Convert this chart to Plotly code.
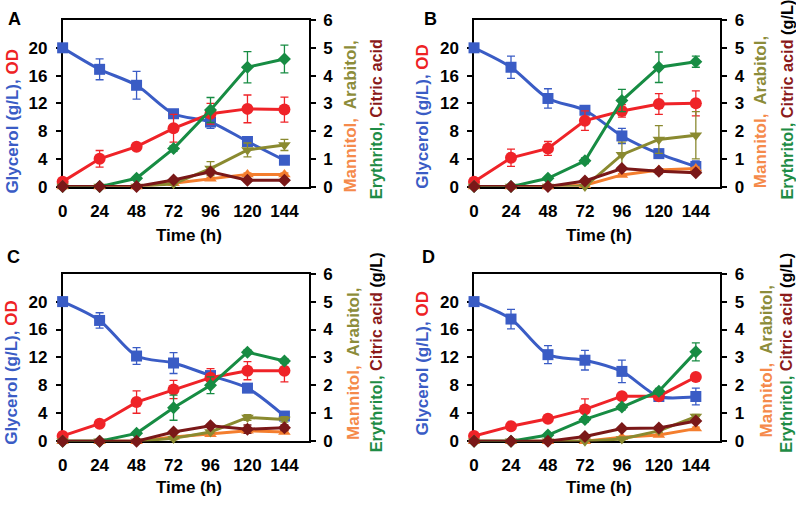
import plotly.graph_objects as go

# ---------------- data ----------------
time_h = [0, 24, 48, 72, 96, 120, 144]
x_ticks = [0, 24, 48, 72, 96, 120, 144]
left_ticks = [0, 4, 8, 12, 16, 20]
right_ticks = [0, 1, 2, 3, 4, 5, 6]
panel_labels = ["A", "B", "C", "D"]

# Panel A
glycerol_A = [20, 16.9, 14.6, 10.5, 9.3, 6.5, 3.8]
glycerol_A_err = [0, 1.5, 2.0, 0.5, 0.9, 0.5, 0.3]
od_A = [0.7, 4.0, 5.75, 8.4, 10.5, 11.2, 11.1]
od_A_err = [0, 1.2, 0.3, 2.0, 1.5, 2.0, 1.8]
erythritol_A = [0, 0, 0.3, 1.37, 2.76, 4.3, 4.6]
erythritol_A_err = [0, 0, 0.05, 0.1, 0.45, 0.56, 0.5]
arabitol_A = [0, 0, 0, 0.1, 0.65, 1.32, 1.5]
arabitol_A_err = [0, 0, 0, 0.05, 0.25, 0.25, 0.2]
mannitol_A = [0, 0, 0, 0.12, 0.28, 0.44, 0.44]
mannitol_A_err = [0, 0, 0, 0.03, 0.05, 0.05, 0.05]
citric_A = [0, 0, 0, 0.24, 0.53, 0.23, 0.23]
citric_A_err = [0, 0, 0, 0.03, 0.05, 0.05, 0.05]

# Panel B
glycerol_B = [20, 17.2, 12.7, 11.0, 7.3, 4.75, 2.9]
glycerol_B_err = [0, 1.6, 1.4, 0.5, 1.1, 0.6, 0.8]
od_B = [0.7, 4.15, 5.5, 9.5, 10.9, 11.9, 12.0]
od_B_err = [0, 1.25, 1.0, 1.4, 0.9, 1.5, 1.8]
erythritol_B = [0, 0, 0.3, 0.93, 3.1, 4.3, 4.5]
erythritol_B_err = [0, 0, 0.05, 0.1, 0.4, 0.55, 0.2]
arabitol_B = [0, 0, 0, 0, 1.15, 1.7, 1.85]
arabitol_B_err = [0, 0, 0, 0, 0.45, 0.5, 0.85]
mannitol_B = [0, 0, 0, 0.05, 0.42, 0.6, 0.65]
mannitol_B_err = [0, 0, 0, 0.03, 0.05, 0.05, 0.05]
citric_B = [0, 0, 0, 0.2, 0.65, 0.55, 0.5]
citric_B_err = [0, 0, 0, 0.03, 0.05, 0.08, 0.05]

# Panel C
glycerol_C = [20, 17.3, 12.2, 11.2, 9.4, 7.6, 3.6]
glycerol_C_err = [0, 1.1, 1.2, 1.5, 0.5, 0.3, 0.2]
od_C = [0.75, 2.5, 5.6, 7.4, 9.1, 10.1, 10.1]
od_C_err = [0, 0.3, 1.6, 1.3, 1.3, 1.3, 1.6]
erythritol_C = [0, 0, 0.28, 1.2, 2.0, 3.19, 2.87]
erythritol_C_err = [0, 0, 0.05, 0.45, 0.3, 0.08, 0.08]
arabitol_C = [0, 0, 0, 0.1, 0.33, 0.85, 0.78]
arabitol_C_err = [0, 0, 0, 0.05, 0.05, 0.1, 0.1]
mannitol_C = [0, 0, 0, 0.15, 0.25, 0.37, 0.33]
mannitol_C_err = [0, 0, 0, 0.03, 0.05, 0.05, 0.05]
citric_C = [0, 0, 0, 0.33, 0.55, 0.43, 0.48]
citric_C_err = [0, 0, 0, 0.05, 0.05, 0.15, 0.1]

# Panel D
glycerol_D = [20, 17.5, 12.4, 11.6, 10.0, 6.4, 6.4]
glycerol_D_err = [0, 1.4, 1.3, 1.4, 1.6, 0.3, 1.2]
od_D = [0.75, 2.15, 3.2, 4.55, 6.45, 6.45, 9.2]
od_D_err = [0, 0.2, 0.5, 1.5, 0.2, 0.2, 0.2]
erythritol_D = [0, 0, 0.22, 0.78, 1.22, 1.79, 3.2]
erythritol_D_err = [0, 0, 0.05, 0.1, 0.1, 0.1, 0.32]
arabitol_D = [0, 0, 0, 0, 0.08, 0.37, 0.88]
arabitol_D_err = [0, 0, 0, 0, 0.03, 0.05, 0.08]
mannitol_D = [0, 0, 0, 0, 0.14, 0.22, 0.45]
mannitol_D_err = [0, 0, 0, 0, 0.03, 0.03, 0.05]
citric_D = [0, 0, 0, 0.17, 0.45, 0.47, 0.72]
citric_D_err = [0, 0, 0, 0.03, 0.05, 0.05, 0.05]

panels = [
    dict(gly=glycerol_A, gly_e=glycerol_A_err, od=od_A, od_e=od_A_err,
         ery=erythritol_A, ery_e=erythritol_A_err, ara=arabitol_A, ara_e=arabitol_A_err,
         man=mannitol_A, man_e=mannitol_A_err, cit=citric_A, cit_e=citric_A_err),
    dict(gly=glycerol_B, gly_e=glycerol_B_err, od=od_B, od_e=od_B_err,
         ery=erythritol_B, ery_e=erythritol_B_err, ara=arabitol_B, ara_e=arabitol_B_err,
         man=mannitol_B, man_e=mannitol_B_err, cit=citric_B, cit_e=citric_B_err),
    dict(gly=glycerol_C, gly_e=glycerol_C_err, od=od_C, od_e=od_C_err,
         ery=erythritol_C, ery_e=erythritol_C_err, ara=arabitol_C, ara_e=arabitol_C_err,
         man=mannitol_C, man_e=mannitol_C_err, cit=citric_C, cit_e=citric_C_err),
    dict(gly=glycerol_D, gly_e=glycerol_D_err, od=od_D, od_e=od_D_err,
         ery=erythritol_D, ery_e=erythritol_D_err, ara=arabitol_D, ara_e=arabitol_D_err,
         man=mannitol_D, man_e=mannitol_D_err, cit=citric_D, cit_e=citric_D_err),
]

# ---------------- style ----------------
W, H = 796, 507
FONT = "Liberation Sans, Arial, Helvetica, sans-serif"
C_BLUE = "#3A5CC5"
C_RED = "#EF2328"
C_GREEN = "#178C43"
C_OLIVE = "#8A8A30"
C_ORANGE = "#F47E2E"
C_DRED = "#7A1818"
T_BLUE = "#3A5CC5"
T_RED = "#EE2224"
T_ORANGE = "#F58A4B"
T_OLIVE = "#8C8C3A"
T_GREEN = "#1E8C45"
T_DRED = "#8B1A1A"

# panel boxes in pixels: (left, right, top, bottom)
boxes = [(58, 306, 11.5, 184.5), (472, 720, 11.5, 184.5),
         (58, 306, 275, 449), (472, 720, 275, 449)]


def px(x):
    return x / W


def py(y):
    return 1 - y / H


series_style = [
    # key, err key, color, symbol, size, right axis?, spline?
    ("gly", "gly_e", C_BLUE, "square", 11, False, True),
    ("od", "od_e", C_RED, "circle", 12, False, False),
    ("man", "man_e", C_ORANGE, "triangle-up", 11, True, False),
    ("ara", "ara_e", C_OLIVE, "triangle-down", 11, True, False),
    ("ery", "ery_e", C_GREEN, "diamond", 10, True, False),
    ("cit", "cit_e", C_DRED, "diamond", 10, True, False),
]

fig = go.Figure()
layout = dict(
    width=W, height=H, margin=dict(l=0, r=0, t=0, b=0),
    paper_bgcolor="white", plot_bgcolor="white", showlegend=False,
    font=dict(family=FONT, size=17, color="black", weight="bold"),
)

tickfont = dict(family=FONT, size=17, color="black", weight="bold")

for i, p in enumerate(panels):
    xname = "x" if i == 0 else f"x{i+1}"
    yl = "y" if i == 0 else f"y{2*i+1}"
    yr = f"y{2*i+2}"
    for key, ekey, color, sym, size, right, spline in series_style:
        fig.add_trace(go.Scatter(
            x=time_h, y=p[key], xaxis=xname, yaxis=yr if right else yl,
            mode="lines+markers", cliponaxis=False,
            line=dict(color=color, width=3, shape="spline" if spline else "linear",
                      smoothing=0.8 if spline else None),
            marker=dict(symbol=sym, size=size, color=color),
            error_y=dict(type="data", array=p[ekey], color=color, thickness=1.3, width=4),
        ))
    l, r, t, b = boxes[i]
    xk = "xaxis" if i == 0 else f"xaxis{i+1}"
    ylk = "yaxis" if i == 0 else f"yaxis{2*i+1}"
    yrk = f"yaxis{2*i+2}"
    layout[xk] = dict(domain=[px(l), px(r)], range=[0, 160], anchor=yl,
                      tickvals=x_ticks, ticks="", showgrid=False, zeroline=False,
                      showline=True, linecolor="black", linewidth=1.5, mirror=True,
                      tickfont=tickfont, ticklabelstandoff=8, layer="below traces")
    layout[ylk] = dict(domain=[py(b), py(t)], range=[0, 24], anchor=xname,
                       tickvals=left_ticks, ticks="outside", ticklen=5, tickwidth=1.5,
                       tickcolor="black", showgrid=False, zeroline=False,
                       showline=True, linecolor="black", linewidth=1.5,
                       tickfont=tickfont, ticklabelstandoff=5, layer="below traces")
    layout[yrk] = dict(overlaying=yl, side="right", range=[0, 6], anchor=xname,
                       tickvals=right_ticks, ticks="outside", ticklen=5, tickwidth=1.5,
                       tickcolor="black", showgrid=False, zeroline=False,
                       showline=True, linecolor="black", linewidth=1.5,
                       tickfont=tickfont, ticklabelstandoff=4, layer="below traces")

# ---------------- text ----------------
ann = []
afont = dict(family=FONT, size=17, weight="bold")
afont2 = dict(family=FONT, size=16.3, weight="bold")

left_title = (f'<span style="color:{T_BLUE}">Glycerol (g/L), </span>'
              f'<span style="color:{T_RED}">OD</span>')
right_l1 = (f'<span style="color:{T_ORANGE}">Mannitol, </span>'
            f'<span style="color:{T_OLIVE}"> Arabitol,</span>')
right_l2_short = (f'<span style="color:{T_GREEN}">Erythritol, </span>'
                  f'<span style="color:{T_DRED}">Citric acid</span>')
right_l2_full = right_l2_short + ' <span style="color:black">(g/L)</span>'

left_pos = [(8, 116), (420, 111.5), (7, 377), (420, 368)]
r1_pos = [(348, 193), (761, 188), (350, 450), (766, 447)]
r2_pos = [(373, 200), (786, 200), (373, 463), (786, 463)]
r2_txt = [right_l2_short, right_l2_full, right_l2_full, right_l2_full]
lab_pos = [(10, 10), (428, 10), (9, 258), (426, 258)]
time_pos = [(185, 235), (598, 235), (185, 497), (598, 497)]

for i in range(4):
    x, y = left_pos[i]
    ann.append(dict(x=px(x), y=py(y), xref="paper", yref="paper", text=left_title,
                    textangle=-90, showarrow=False, xanchor="center", yanchor="middle",
                    font=afont))
    x, y = r1_pos[i]
    ann.append(dict(x=px(x), y=py(y), xref="paper", yref="paper", text=right_l1,
                    textangle=-90, showarrow=False, xanchor="center", yanchor="bottom",
                    font=afont))
    x, y = r2_pos[i]
    ann.append(dict(x=px(x), y=py(y), xref="paper", yref="paper", text=r2_txt[i],
                    textangle=-90, showarrow=False, xanchor="center", yanchor="bottom",
                    font=afont2))
    x, y = lab_pos[i]
    ann.append(dict(x=px(x), y=py(y), xref="paper", yref="paper", text=panel_labels[i],
                    showarrow=False, xanchor="center", yanchor="middle",
                    font=dict(family=FONT, size=18, weight="bold", color="black")))
    x, y = time_pos[i]
    ann.append(dict(x=px(x), y=py(y), xref="paper", yref="paper", text="Time (h)",
                    showarrow=False, xanchor="center", yanchor="middle",
                    font=dict(family=FONT, size=17, weight="bold", color="black")))

layout["annotations"] = ann
fig.update_layout(**layout)
fig.write_html(
    "out.html",
    config={"displayModeBar": False},
    post_script="document.body.style.margin='0';document.body.style.padding='0';",
)
